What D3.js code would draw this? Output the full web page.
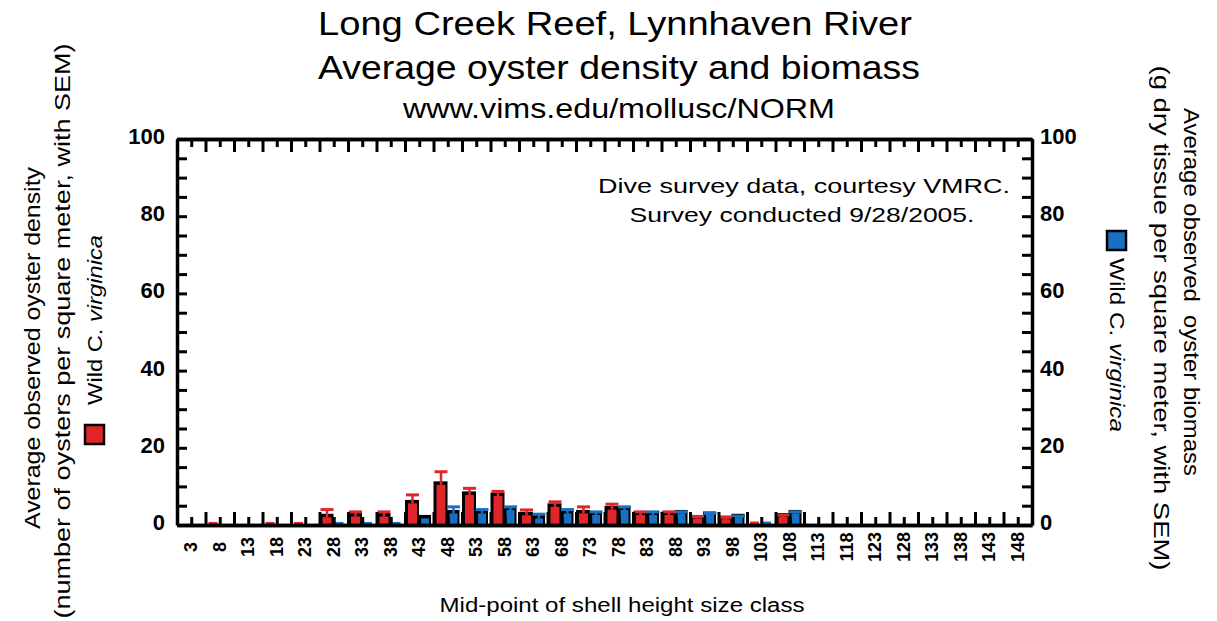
<!DOCTYPE html>
<html>
<head>
<meta charset="utf-8">
<script src="https://cdn.jsdelivr.net/npm/d3@7"></script>
<style>
  body { margin: 0; background: #fff; }
  text { font-family: "Liberation Sans", Arial, sans-serif; }
</style>
</head>
<body>
<script>
// size classes (mid-point of shell height, mm)
const sizeClasses = [3, 8, 13, 18, 23, 28, 33, 38, 43, 48, 53, 58, 63, 68, 73, 78, 83, 88, 93, 98, 103, 108, 113, 118, 123, 128, 133, 138, 143, 148];

// density (oysters / m2) and SEM
const density    = [0, 0.8, 0, 0.8, 0.8, 2.0, 2.2, 2.2, 5.6, 10.4, 7.8, 7.5, 2.5, 4.7, 3.0, 4.0, 2.6, 2.6, 1.7, 1.5, 0.9, 2.2, 0, 0, 0, 0, 0, 0, 0, 0];
const densitySem = [0, 0, 0, 0, 0, 2.0, 1.2, 1.2, 2.2, 3.4, 1.7, 1.2, 1.4, 1.3, 1.7, 1.4, 0.8, 0.8, 0.5, 0.5, 0, 0.4, 0, 0, 0, 0, 0, 0, 0, 0];

// biomass (g dry tissue / m2) and SEM
const biomass    = [0, 0, 0, 0, 0, 0.8, 0.8, 0.8, 1.7, 3.0, 3.0, 3.9, 1.7, 3.0, 2.6, 3.9, 2.6, 3.0, 2.6, 2.0, 0.9, 3.0, 0, 0, 0, 0, 0, 0, 0, 0];
const biomassSem = [0, 0, 0, 0, 0, 0, 0, 0, 0, 1.7, 1.0, 0.8, 1.1, 1.0, 0.8, 0.8, 0.8, 0.4, 0.4, 0.3, 0, 0.4, 0, 0, 0, 0, 0, 0, 0, 0];

const yTicks = [0, 20, 40, 60, 80, 100];

const width = 1217, height = 621;
const margin = { top: 139, bottom: 96, left: 177, right: 185 };
const red = "#e0262a", blue = "#1a70c0";

let svg = d3.select('body')
  .append('svg')
  .attr('width', width)
  .attr('height', height);

let x = d3.scaleBand()
  .domain(sizeClasses)
  .range([margin.left, width - margin.right]);

// index scale for the tick marks between size classes
let xi = d3.scaleLinear()
  .domain([0, sizeClasses.length])
  .range([margin.left, width - margin.right]);

let y = d3.scaleLinear()
  .domain([0, 100])
  .range([height - margin.bottom, margin.top]);

const rows = sizeClasses.map((c, i) => ({
  c, d: density[i], ds: densitySem[i], b: biomass[i], bs: biomassSem[i]
}));

const series = [
  { key: 'd', sem: 'ds', color: red, off: 3, w: 9 },
  { key: 'b', sem: 'bs', color: blue, off: 16, w: 8 }
];

// black shadows behind bars
series.forEach(s => {
  svg.append('g').selectAll('rect')
    .data(rows.filter(r => r[s.key] >= 1))
    .enter().append('rect')
    .attr('x', r => x(r.c) + s.off - 3)
    .attr('y', r => y(r[s.key]) - 3.5)
    .attr('width', s.w + 5)
    .attr('height', r => y(0) - y(r[s.key]) + 3.5)
    .attr('fill', '#000');
});

// bars
series.forEach(s => {
  svg.append('g').selectAll('rect')
    .data(rows.filter(r => r[s.key] > 0))
    .enter().append('rect')
    .attr('x', r => x(r.c) + s.off)
    .attr('y', r => y(r[s.key]))
    .attr('width', s.w)
    .attr('height', r => y(0) - y(r[s.key]))
    .attr('fill', s.color);
});

// error bars
series.forEach(s => {
  const g = svg.append('g').selectAll('g')
    .data(rows.filter(r => r[s.sem] > 0))
    .enter().append('g');
  g.append('line')
    .attr('x1', r => x(r.c) + s.off + s.w / 2)
    .attr('x2', r => x(r.c) + s.off + s.w / 2)
    .attr('y1', r => y(r[s.key]))
    .attr('y2', r => y(r[s.key] + r[s.sem]))
    .attr('stroke', s.color)
    .attr('stroke-width', 2.5);
  g.append('line')
    .attr('x1', r => x(r.c) + s.off + s.w / 2 - 6.5)
    .attr('x2', r => x(r.c) + s.off + s.w / 2 + 6.5)
    .attr('y1', r => y(r[s.key] + r[s.sem]))
    .attr('y2', r => y(r[s.key] + r[s.sem]))
    .attr('stroke', s.color)
    .attr('stroke-width', 3);
});

// axes: frame with inward ticks
const yMinor = d3.range(0, 101, 5);
const boundaries = d3.range(0, sizeClasses.length + 1);
const centers = boundaries.slice(0, -1).map(i => i + 0.5);

function styleAxis(g) {
  g.selectAll('path, line').attr('stroke', '#000').attr('stroke-width', 3);
  g.select('.domain').attr('stroke-width', 3.5);
}

svg.append('g')
  .attr('transform', `translate(${margin.left},0)`)
  .call(d3.axisLeft(y).tickValues(yMinor).tickSize(-10).tickSizeOuter(0).tickPadding(12)
    .tickFormat(d => yTicks.includes(d) ? d : ''))
  .call(styleAxis)
  .selectAll('text')
  .style('font-size', '22px').style('font-weight', 'bold').attr('dy', '0.2em');

svg.append('g')
  .attr('transform', `translate(${width - margin.right},0)`)
  .call(d3.axisRight(y).tickValues(yMinor).tickSize(-10).tickSizeOuter(0).tickPadding(8)
    .tickFormat(d => yTicks.includes(d) ? d : ''))
  .call(styleAxis)
  .selectAll('text')
  .style('font-size', '22px').style('font-weight', 'bold').attr('dy', '0.2em');

// bottom: long ticks at class boundaries, short at class centres
svg.append('g')
  .attr('transform', `translate(0,${height - margin.bottom})`)
  .call(d3.axisBottom(xi).tickValues(boundaries).tickSize(-13).tickSizeOuter(0).tickFormat(''))
  .call(styleAxis);
svg.append('g')
  .attr('transform', `translate(0,${height - margin.bottom})`)
  .call(d3.axisBottom(xi).tickValues(centers).tickSize(-8).tickSizeOuter(0).tickFormat(''))
  .call(styleAxis);

// top
svg.append('g')
  .attr('transform', `translate(0,${margin.top})`)
  .call(d3.axisTop(xi).tickValues(boundaries).tickSize(-13).tickSizeOuter(0).tickFormat(''))
  .call(styleAxis);
svg.append('g')
  .attr('transform', `translate(0,${margin.top})`)
  .call(d3.axisTop(xi).tickValues(centers).tickSize(-8).tickSizeOuter(0).tickFormat(''))
  .call(styleAxis);

// x tick labels (rotated)
svg.append('g').selectAll('text')
  .data(sizeClasses)
  .enter().append('text')
  .attr('transform', d => `translate(${x(d) + x.bandwidth() / 2 + 6},547) rotate(-90)`)
  .attr('text-anchor', 'middle')
  .style('font-size', '18px')
  .style('font-weight', 'bold')
  .text(d => d);

// helper for text
function label(txt, tx, ty, size, len, rot, anchor) {
  let t = svg.append('text')
    .attr('transform', `translate(${tx},${ty})` + (rot ? ` rotate(${rot})` : ''))
    .attr('text-anchor', anchor || 'middle')
    .style('font-size', size + 'px');
  if (len) t.attr('textLength', len).attr('lengthAdjust', 'spacingAndGlyphs');
  t.text(txt);
  return t;
}

// titles
label('Long Creek Reef, Lynnhaven River', 615, 35, 34, 594);
label('Average oyster density and biomass', 619, 79, 34, 602);
label('www.vims.edu/mollusc/NORM', 619, 118, 28, 432);

// annotation
label('Dive survey data, courtesy VMRC.', 804, 193, 21, 412);
label('Survey conducted 9/28/2005.', 802, 222, 21, 345);

// x axis title
label('Mid-point of shell height size class', 622, 612, 20, 365);

// left axis title
label('Average observed oyster density', 40, 348, 22, 362, -90);
label('(number of oysters per square meter, with SEM)', 70, 331, 22, 575, -90);

// right axis title
label('Average observed\u00a0 oyster biomass', 1184, 292, 22, 368, 90);
label('(g dry tissue per square meter, with SEM)', 1154, 318, 22, 505, 90);

// legends
svg.append('rect')
  .attr('x', 85).attr('y', 425).attr('width', 19).attr('height', 19)
  .attr('fill', red).attr('stroke', '#000').attr('stroke-width', 2.5);
let lt = label('', 102, 405, 20, 170, -90, 'start');
lt.append('tspan').text('Wild C. ');
lt.append('tspan').style('font-style', 'italic').text('virginica');

svg.append('rect')
  .attr('x', 1107).attr('y', 231).attr('width', 19).attr('height', 19)
  .attr('fill', blue).attr('stroke', '#000').attr('stroke-width', 2.5);
let rt = label('', 1110, 258, 20, 174, 90, 'start');
rt.append('tspan').text('Wild C. ');
rt.append('tspan').style('font-style', 'italic').text('virginica');
</script>
</body>
</html>
